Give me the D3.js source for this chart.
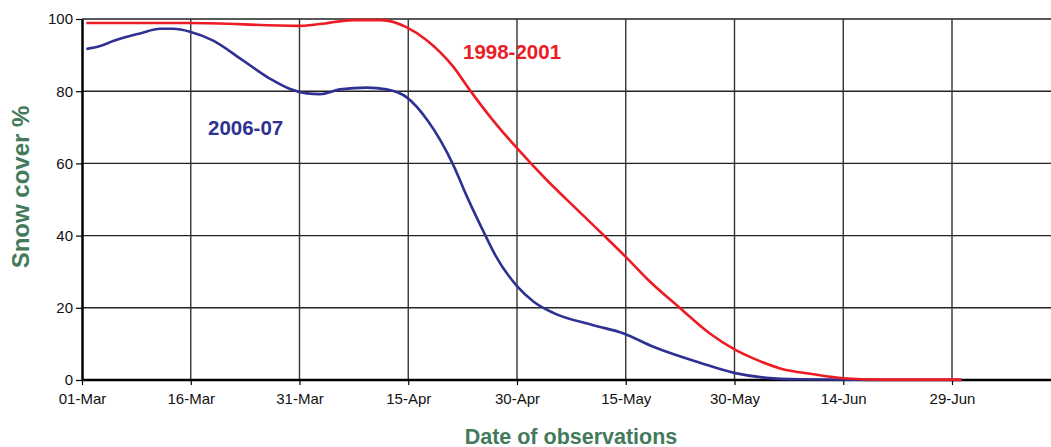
<!DOCTYPE html>
<html>
<head>
<meta charset="utf-8">
<script src="https://cdn.jsdelivr.net/npm/d3@7"></script>
<style>
  body { margin: 0; background: #fff; }
  svg { display: block; font-family: "Liberation Sans", Arial, sans-serif; }
</style>
</head>
<body>
<div id="chart"></div>
<script>
// days counted from 01-Mar
var tickDays = [0, 15, 30, 45, 60, 75, 90, 105, 120];
var tickLabels = ["01-Mar", "16-Mar", "31-Mar", "15-Apr", "30-Apr", "15-May", "30-May", "14-Jun", "29-Jun"];
var yTicks = [0, 20, 40, 60, 80, 100];

// 1998-2001 average
var redDays = [0.6, 14.9, 29.8, 32.8, 37.4, 41.3, 44.8, 47.5, 51.2, 53.5, 56.3, 60.0, 64.1, 66.9, 71.9, 74.9, 78.1, 82.5, 86.6, 90.0, 92.6, 96.3, 100.9, 105.0, 110.0, 121.3];
var redVals = [98.9, 98.9, 98.1, 98.6, 99.7, 99.7, 97.7, 94.2, 86.8, 80.3, 72.9, 64.2, 55.4, 49.9, 40.2, 34.3, 27.7, 19.9, 12.9, 8.5, 6.0, 3.2, 1.6, 0.5, 0.1, 0.1];

// 2006-07
var blueDays = [0.6, 2.5, 4.3, 8.0, 10.8, 12.6, 14.9, 18.1, 21.8, 25.9, 28.7, 31.0, 32.8, 35.6, 39.3, 42.0, 44.8, 47.7, 51.2, 53.1, 55.6, 57.0, 60.0, 62.3, 65.0, 70.5, 74.7, 78.8, 85.2, 90.1, 94.4, 99.0, 110.0, 121.3];
var blueVals = [91.7, 92.5, 93.9, 96.0, 97.3, 97.3, 96.5, 94.0, 89.1, 83.5, 80.6, 79.4, 79.2, 80.5, 81.0, 80.5, 78.3, 71.8, 59.6, 50.8, 40.2, 34.6, 26.0, 21.7, 18.6, 15.2, 12.9, 9.2, 4.8, 1.9, 0.6, 0.2, 0, 0];

var svgWidth = 1051, svgHeight = 447;
var plotLeft = 82, plotTop = 19, plotBottom = 380;

var svg = d3.select("#chart").append("svg")
    .attr("width", svgWidth)
    .attr("height", svgHeight);

var x = d3.scaleLinear().domain([0, 135]).range([plotLeft, plotLeft + 135 * 7.25]);
var y = d3.scaleLinear().domain([0, 100]).range([plotBottom, plotTop]);

// grid
var grid = svg.append("g");
grid.selectAll("line.h")
    .data(yTicks.filter(d => d > 0))
    .enter().append("line")
    .attr("x1", plotLeft).attr("x2", svgWidth)
    .attr("y1", d => y(d)).attr("y2", d => y(d))
    .attr("stroke", "#222").attr("stroke-width", 1.4);

grid.selectAll("line.v")
    .data(tickDays.filter(d => d > 0))
    .enter().append("line")
    .attr("x1", d => x(d)).attr("x2", d => x(d))
    .attr("y1", plotTop).attr("y2", plotBottom)
    .attr("stroke", "#333").attr("stroke-width", 1.4);

// axes
var xAxis = d3.axisBottom(x)
    .tickValues(tickDays)
    .tickFormat((d, i) => tickLabels[i])
    .tickSize(5)
    .tickSizeOuter(0);

var gx = svg.append("g")
    .attr("transform", "translate(0," + plotBottom + ")")
    .call(xAxis);
gx.select(".domain").attr("d", "M" + plotLeft + ",0H" + svgWidth).attr("stroke", "#000").attr("stroke-width", 2.5);
gx.selectAll(".tick line").attr("stroke", "#000").attr("stroke-width", 1.2);
gx.selectAll(".tick text")
    .attr("y", 13)
    .attr("font-size", 15)
    .attr("font-family", "Liberation Sans, Arial, sans-serif")
    .attr("fill", "#111");

var yAxis = d3.axisLeft(y)
    .tickValues(yTicks)
    .tickSize(6)
    .tickSizeOuter(0);

var gy = svg.append("g")
    .attr("transform", "translate(" + plotLeft + ",0)")
    .call(yAxis);
gy.select(".domain").attr("stroke", "#000").attr("stroke-width", 2.5);
gy.selectAll(".tick line").attr("stroke", "#000").attr("stroke-width", 1.2);
gy.selectAll(".tick text")
    .attr("x", -9)
    .attr("font-size", 15)
    .attr("font-family", "Liberation Sans, Arial, sans-serif")
    .attr("fill", "#111");

// series
var line = d3.line()
    .x(d => x(d[0]))
    .y(d => y(d[1]))
    .curve(d3.curveMonotoneX);

svg.append("path")
    .datum(d3.zip(blueDays, blueVals))
    .attr("fill", "none")
    .attr("stroke", "#2e3192")
    .attr("stroke-width", 2.6)
    .attr("d", line);

svg.append("path")
    .datum(d3.zip(redDays, redVals))
    .attr("fill", "none")
    .attr("stroke", "#ed1c24")
    .attr("stroke-width", 2.6)
    .attr("d", line);

// series labels
svg.append("text")
    .attr("x", 463).attr("y", 59)
    .attr("font-size", 20.5).attr("font-weight", "bold")
    .attr("fill", "#ed1c24")
    .text("1998-2001");

svg.append("text")
    .attr("x", 208).attr("y", 135)
    .attr("font-size", 20.5).attr("font-weight", "bold")
    .attr("fill", "#2e3192")
    .text("2006-07");

// axis titles
svg.append("text")
    .attr("x", 571).attr("y", 444)
    .attr("text-anchor", "middle")
    .attr("font-size", 21.5).attr("font-weight", "bold")
    .attr("fill", "#427a5b")
    .text("Date of observations");

svg.append("text")
    .attr("transform", "translate(29,187) rotate(-90)")
    .attr("text-anchor", "middle")
    .attr("font-size", 24).attr("font-weight", "bold")
    .attr("fill", "#427a5b")
    .text("Snow cover %");
</script>
</body>
</html>
